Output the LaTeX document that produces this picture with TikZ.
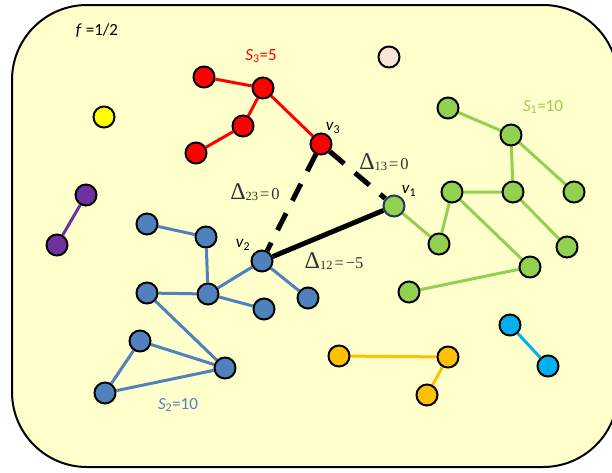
\documentclass[tikz,border=0pt]{standalone}
\usepackage{fontspec}
\setmainfont{Carlito}
\newfontfamily\dfont{Liberation Serif}
\pgfdeclarelayer{bg}
\pgfdeclarelayer{edges}
\pgfsetlayers{bg,edges,main}
\definecolor{bgyellow}{HTML}{FFFFCC}
\definecolor{cred}{HTML}{FF0000}
\definecolor{cgreen}{HTML}{92D050}
\definecolor{cblue}{HTML}{4F81BD}
\definecolor{cpurple}{HTML}{7030A0}
\definecolor{cyel}{HTML}{FFFF00}
\definecolor{cpink}{HTML}{FBE5D6}
\definecolor{corange}{HTML}{FFC000}
\definecolor{ccyan}{HTML}{00B0F0}
\definecolor{cnavy}{HTML}{1F3864}
\tikzset{
  vert/.style={circle, draw=black, line width=2pt, minimum size=21pt, inner sep=0pt},
  edge/.style={line width=3pt},
  lab/.style={font=\fontsize{17}{19}\selectfont, inner sep=0pt},
  dlab/.style={font=\dfont\fontsize{16.5}{18}\selectfont, inner sep=0pt, text=black!80},
  bigdash/.style={line width=5pt, dash pattern=on 19pt off 14pt},
}
\newcommand{\dl}[2]{{\fontsize{24}{24}\selectfont\char"0394}{\fontsize{12.5}{12}\selectfont\raisebox{-1.5pt}{#1}}\hspace{2pt}={\hspace{2pt}}#2}
\begin{document}
\begin{tikzpicture}[x=1pt,y=-1pt]
\useasboundingbox (0,0) rectangle (612,472);
\begin{pgfonlayer}{bg}
\clip (0,0) rectangle (612,472);
\draw[line width=2pt, fill=bgyellow, rounded corners=75pt] (12,5) rectangle (618,467);
\end{pgfonlayer}

% red S3
\node[vert, fill=cred] (r1) at (204,77) {};
\node[vert, fill=cred] (r2) at (263,88) {};
\node[vert, fill=cred] (r3) at (243,126) {};
\node[vert, fill=cred] (r4) at (196,153) {};
\node[vert, fill=cred] (v3) at (321,144) {};
% singles
\node[vert, fill=cyel] (y1) at (104,117) {};
\node[vert, fill=cpink] (pk) at (389,57) {};
\node[vert, fill=cpurple] (p1) at (86,195) {};
\node[vert, fill=cpurple] (p2) at (57,245) {};
% green S1
\node[vert, fill=cgreen] (g1) at (448,108) {};
\node[vert, fill=cgreen] (g2) at (511,135) {};
\node[vert, fill=cgreen] (g3) at (452,192) {};
\node[vert, fill=cgreen] (g4) at (513,192) {};
\node[vert, fill=cgreen] (g5) at (574,192) {};
\node[vert, fill=cgreen, draw=cnavy] (v1) at (394,206) {};
\node[vert, fill=cgreen] (g6) at (439,244) {};
\node[vert, fill=cgreen] (g7) at (567,247) {};
\node[vert, fill=cgreen] (g8) at (530,267) {};
\node[vert, fill=cgreen] (g9) at (409,292) {};
% blue S2
\node[vert, fill=cblue] (v2) at (262,261) {};
\node[vert, fill=cblue] (b1) at (147,224) {};
\node[vert, fill=cblue] (b2) at (206,237) {};
\node[vert, fill=cblue] (b3) at (147,293) {};
\node[vert, fill=cblue] (b4) at (208,294) {};
\node[vert, fill=cblue] (b5) at (264,309) {};
\node[vert, fill=cblue] (b6) at (308,298) {};
\node[vert, fill=cblue] (b7) at (140,341) {};
\node[vert, fill=cblue] (b8) at (225,368) {};
\node[vert, fill=cblue] (b9) at (105,393) {};
% orange
\node[vert, fill=corange] (o1) at (339,356) {};
\node[vert, fill=corange] (o2) at (448,357) {};
\node[vert, fill=corange] (o3) at (427,395) {};
% cyan
\node[vert, fill=ccyan] (c1) at (510,325) {};
\node[vert, fill=ccyan] (c2) at (548,366) {};

\begin{pgfonlayer}{edges}
\draw[edge, cred] (r1) -- (r2) -- (r3) -- (r4);
\draw[edge, cred] (r2) -- (v3);
\draw[edge, cpurple] (p1) -- (p2);
\draw[edge, cgreen] (g1) -- (g2) -- (g4);
\draw[edge, cgreen] (g2) -- (g5);
\draw[edge, cgreen] (g3) -- (g4) -- (g7);
\draw[edge, cgreen] (g3) -- (g6);
\draw[edge, cgreen] (g3) -- (g8) -- (g9);
\draw[edge, cgreen] (v1) -- (g6);
\draw[edge, cblue] (b1) -- (b2) -- (b4) -- (b3) -- (b8) -- (b7) -- (b9) -- (b8);
\draw[edge, cblue] (b4) -- (v2) -- (b6);
\draw[edge, cblue] (b4) -- (b5);
\draw[edge, corange] (o1) -- (o2) -- (o3);
\draw[edge, ccyan] (c1) -- (c2);
\draw[line width=5pt, black] (v2) -- (v1);
\draw[bigdash, black] (v3) -- (v2);
\draw[bigdash, black] (v3) -- (v1);
\end{pgfonlayer}

% labels
\node[lab] (lf) at (97,31) {\textit{f} =1/2};
\node[lab, text=cred] (ls3) at (261,56) {\textit{S}\textsubscript{3}=5};
\node[lab, text=cgreen] (ls1) at (543,107) {\textit{S}\textsubscript{1}=10};
\node[lab, text=cblue] (ls2) at (178,405) {\textit{S}\textsubscript{2}=10};
\node[lab] (lv3) at (333,128) {\textit{v}\textsubscript{3}};
\node[lab] (lv1) at (409,191) {\textit{v}\textsubscript{1}};
\node[lab] (lv2) at (243,245) {\textit{v}\textsubscript{2}};
\node[dlab] (d23) at (255,192) {\dl{23}{0}};
\node[dlab] (d13) at (384,162) {\dl{13}{0}};
\node[dlab] (d12) at (334,261) {\dl{12}{\char"2212 5}};
\end{tikzpicture}
\end{document}
